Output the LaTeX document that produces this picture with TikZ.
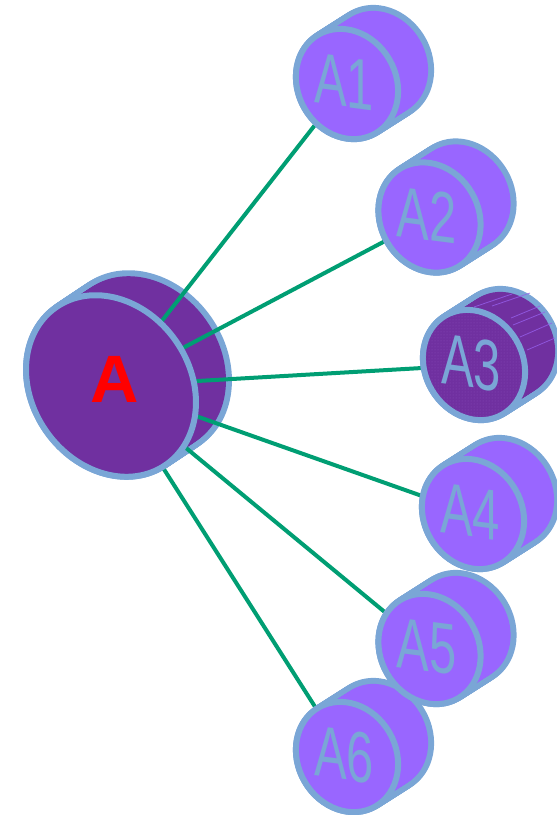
\documentclass[tikz,border=0pt]{standalone}
\usepackage{fontspec}
\setmainfont{Liberation Sans}
\usetikzlibrary{calc,patterns}
\definecolor{bordercol}{RGB}{122,166,214}
\definecolor{satfill}{RGB}{153,102,255}
\definecolor{afill}{RGB}{112,48,160}
\definecolor{linkgreen}{RGB}{0,158,115}
\definecolor{alabel}{RGB}{255,0,0}
\definecolor{streak}{RGB}{150,95,235}
\definecolor{dotcol}{RGB}{135,75,185}
% #1 centre, #2 offset to back, #3 x radius, #4 y radius, #5 angle, #6 fill, #7 half border
\newcommand\cylBack[7]{%
  \foreach \k in {0,...,24}{
    \fill[bordercol,shift={($(#1)+\k/24*(#2)$)},rotate=#5] (0,0) ellipse[x radius=#3pt+#7pt, y radius=#4pt+#7pt];}
  \foreach \k in {0,...,24}{
    \fill[#6,shift={($(#1)+\k/24*(#2)$)},rotate=#5] (0,0) ellipse[x radius=#3pt-#7pt, y radius=#4pt-#7pt];}
}
% #1 centre, #2 x radius, #3 y radius, #4 angle, #5 fill, #6 border width
\newcommand\cylFront[6]{%
  \filldraw[fill=#5,draw=bordercol,line width=#6pt,shift={(#1)},rotate=#4] (0,0) ellipse[x radius=#2pt, y radius=#3pt];}
\tikzset{
  link/.style={draw=linkgreen,line width=4pt},
  satlabel/.style={text=bordercol,font=\fontsize{72}{72}\selectfont,inner sep=0pt,yslant=-0.13},
  mainlabel/.style={text=alabel,font=\fontsize{67}{67}\selectfont\bfseries,inner sep=0pt},
  streakline/.style={draw=streak,line width=0.8pt,opacity=0.8}
}
\newcommand\satBody[2]{% #1 name, #2 fill
  \cylBack{#1}{33,-21}{57}{49}{-60}{#2}{3}
  \cylFront{#1}{57}{49}{-60}{#2}{6}
}
\newcommand\satLabel[2]{%
  \node[satlabel] (l#1) at ($(#1)+(-3,-2)$) {\scalebox{0.68}[1]{#2}};
}
\begin{document}
\begin{tikzpicture}[x=1pt,y=-1pt]
\useasboundingbox (0,0) rectangle (557,815);
\clip (0,0) rectangle (557,815);
\coordinate (A) at (111,386);
\coordinate (A1) at (347,84);
\coordinate (A2) at (429.5,217.5);
\coordinate (A3) at (474,365);
\coordinate (A4) at (473,514);
\coordinate (A5) at (429.5,649);
\coordinate (A6) at (347,757);
% hub: back part
\cylBack{A}{33,-22}{96}{79}{-55}{afill}{3}
% connectors
\draw[link] (A) -- (A1);
\draw[link] (A) -- (A2);
\draw[link] (A) -- (A3);
\draw[link] (A) -- (A4);
\draw[link] (A) -- (A5);
\draw[link] (A) -- (A6);
% hub: front face
\cylFront{A}{96}{79}{-55}{afill}{6}
\node[mainlabel] (lA) at (115,379) {A};
% satellites (lower ones first)
\satBody{A6}{satfill}\satLabel{A6}{A6}
\satBody{A5}{satfill}\satLabel{A5}{A5}
\satBody{A4}{satfill}\satLabel{A4}{A4}
\cylBack{A3}{33,-21}{57}{49}{-60}{afill}{3}
\draw[streakline] (474,307) -- (512,294);
\draw[streakline] (492,306) -- (530,293);
\draw[streakline] (511,318) -- (540,306);
\draw[streakline] (513,325) -- (545,312);
\draw[streakline] (520,337) -- (552,323);
\draw[streakline] (527,350) -- (555,338);
\cylFront{A3}{57}{49}{-60}{afill}{6}
\fill[pattern=dots,pattern color=dotcol,shift={(A3)},rotate=-60] (0,0) ellipse[x radius=54pt, y radius=46pt];
\satLabel{A3}{A3}
\satBody{A2}{satfill}\satLabel{A2}{A2}
\satBody{A1}{satfill}\satLabel{A1}{A1}
\end{tikzpicture}
\end{document}
